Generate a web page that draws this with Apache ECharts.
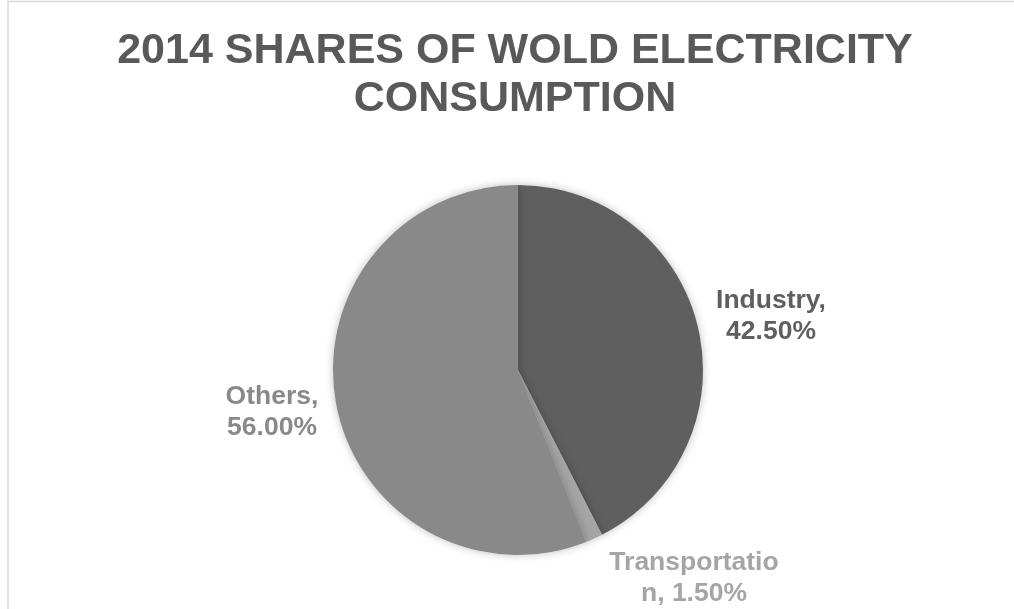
<!DOCTYPE html>
<html>
<head>
<meta charset="utf-8">
<script src="https://cdn.jsdelivr.net/npm/echarts@6/dist/echarts.min.js"></script>
<style>
  html, body { margin: 0; padding: 0; background: #ffffff; overflow: hidden; }
  #chart { width: 1030px; height: 609px; }
</style>
</head>
<body>
<div id="chart"></div>
<script>
const categories = ['Industry', 'Transportation', 'Others'];
const shares = [42.5, 1.5, 56.0];

const sliceColors = ['#5f5f5f', '#a5a5a5', '#898989'];
// label block centres relative to the pie centre (layout only)
const labelOffsets = [[253, -54], [176, 208], [-246, 42]];
const pieCenter = [518, 370];
const LABEL_FONT = 'bold 26.5px "Liberation Sans", Arial, sans-serif';
const LABEL_WIDTH = 172;

// Excel-like wrapping: break at spaces (trimmed), break over-long words by character
const measureCtx = document.createElement('canvas').getContext('2d');
function wrapLabel(text) {
  measureCtx.font = LABEL_FONT;
  const words = text.split(' ');
  const lines = [];
  let cur = '';
  words.forEach(w => {
    const trial = cur ? cur + ' ' + w : w;
    if (measureCtx.measureText(trial).width <= LABEL_WIDTH) { cur = trial; return; }
    if (cur) { lines.push(cur); cur = ''; }
    let piece = '';
    for (const ch of w) {
      if (measureCtx.measureText(piece + ch).width > LABEL_WIDTH && piece) {
        lines.push(piece); piece = ch;
      } else piece += ch;
    }
    cur = piece;
  });
  if (cur) lines.push(cur);
  return lines.join('\n');
}

const chart = echarts.init(document.getElementById('chart'), null, { renderer: 'canvas' });

chart.setOption({
  backgroundColor: '#ffffff',
  animation: false,
  graphic: [{
    type: 'rect',
    shape: { x: 8, y: 1.5, width: 1200, height: 800 },
    style: { fill: 'none', stroke: '#d9d9d9', lineWidth: 1.5 },
    silent: true,
    z: -10
  }],
  title: {
    text: '2014 SHARES OF WOLD ELECTRICITY\nCONSUMPTION',
    left: 'center',
    top: 22,
    textStyle: {
      fontFamily: 'Liberation Sans, Arial, sans-serif',
      fontSize: 43,
      fontWeight: 'bold',
      color: '#595959',
      lineHeight: 48
    }
  },
  series: [{
    type: 'pie',
    center: pieCenter,
    radius: 185,
    startAngle: 90,
    clockwise: true,
    avoidLabelOverlap: false,
    data: categories.map((c, i) => ({
      name: c,
      value: shares[i],
      itemStyle: { color: sliceColors[i] },
      label: { color: sliceColors[i] }
    })),
    itemStyle: {
      borderWidth: 0,
      shadowBlur: 8,
      shadowColor: 'rgba(0,0,0,0.25)'
    },
    label: {
      show: true,
      position: 'outside',
      formatter: p => wrapLabel(p.name + ', ' + p.value.toFixed(2) + '%'),
      fontFamily: 'Liberation Sans, Arial, sans-serif',
      fontSize: 26.5,
      fontWeight: 'bold',
      lineHeight: 31,
      align: 'center'
    },
    labelLine: { show: false },
    labelLayout: function (params) {
      const off = labelOffsets[params.dataIndex];
      return {
        x: pieCenter[0] + off[0],
        y: pieCenter[1] + off[1],
        align: 'center',
        verticalAlign: 'middle'
      };
    },
    emphasis: { disabled: true }
  }]
});
</script>
</body>
</html>
